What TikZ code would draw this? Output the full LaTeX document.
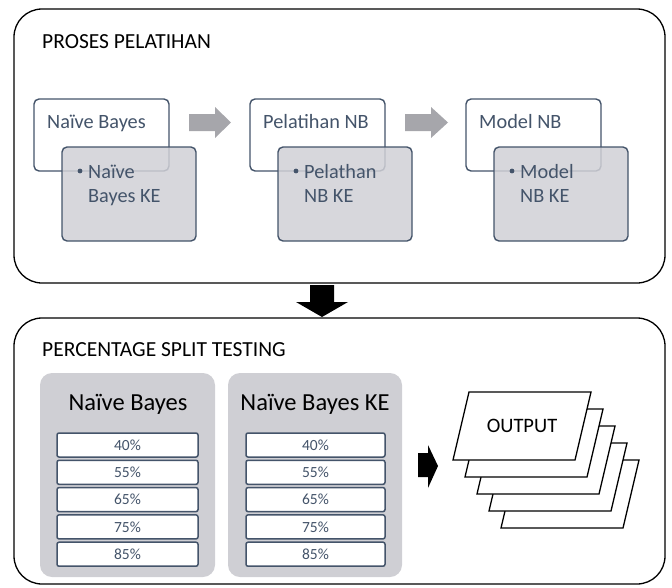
\documentclass[tikz,border=0pt]{standalone}
\usepackage{fontspec}
\setmainfont{Carlito}
\definecolor{slate}{HTML}{44546A}
\definecolor{paleg}{HTML}{D0D0D6}
\definecolor{panelg}{HTML}{CFCFD4}
\definecolor{arrg}{HTML}{A6A6AB}
\tikzset{
  panel/.style={draw=black, line width=1.3pt, rounded corners=28pt, outer sep=0pt, inner sep=0pt, anchor=north west},
  wbox/.style={draw=slate, line width=1.4pt, rounded corners=5pt, fill=white, anchor=north west, minimum width=135pt, minimum height=72pt, outer sep=0pt, inner sep=0pt},
  gbox/.style={wbox, fill=paleg, fill opacity=0.85, minimum width=134pt, minimum height=94pt},
  btext/.style={text=slate, font=\fontsize{20.3}{24}\selectfont, anchor=base west, inner sep=0pt},
  ttext/.style={text=black, font=\fontsize{21.5}{26}\selectfont, anchor=base west, inner sep=0pt},
  dot/.style={circle, fill=slate, inner sep=0pt, minimum size=4.8pt},
  gpanel/.style={fill=panelg, rounded corners=12pt, anchor=north west, minimum height=204pt, outer sep=0pt, inner sep=0pt},
  prow/.style={draw=slate, line width=1.5pt, rounded corners=2pt, fill=white, anchor=north west, minimum height=24pt, outer sep=0pt, inner sep=0pt, text=slate, font=\fontsize{15.5}{18}\selectfont},
  head/.style={text=black, font=\fontsize{24.5}{28}\selectfont, anchor=base, inner sep=0pt},
  garrow/.style={fill=arrg},
  karrow/.style={fill=black},
  sheet/.style={draw=black, line width=1.3pt, fill=white, line join=miter}
}
\begin{document}
\begin{tikzpicture}[x=1pt,y=-1pt]
\useasboundingbox (0,0) rectangle (672,587);

% top panel
\node[panel, minimum width=651pt, minimum height=274pt] (top) at (14,9) {};
\node[ttext] (ttop) at (42,48) {PROSES PELATIHAN};

% step 1
\node[wbox] (w1) at (34,99) {};
\node[gbox] (g1) at (62,147) {};
\node[btext] (w1t) at (47,128.5) {Naïve Bayes};
\node[dot] (d1) at (80,171) {};
\node[btext] (g1a) at (88,178) {Naïve};
\node[btext] (g1b) at (88,202) {Bayes KE};

% step 2
\node[wbox] (w2) at (250,99) {};
\node[gbox] (g2) at (278,147) {};
\node[btext] (w2t) at (263,128.5) {Pelatihan NB};
\node[dot] (d2) at (296,171) {};
\node[btext] (g2a) at (304,178) {Pelathan};
\node[btext] (g2b) at (304,202) {NB KE};

% step 3
\node[wbox] (w3) at (466,99) {};
\node[gbox] (g3) at (494,147) {};
\node[btext] (w3t) at (479,128.5) {Model NB};
\node[dot] (d3) at (512,171) {};
\node[btext] (g3a) at (520,178) {Model};
\node[btext] (g3b) at (520,202) {NB KE};

% gray arrows
\fill[garrow] (189,114) -- (215,114) -- (215,107) -- (231,122.5) -- (215,138) -- (215,131) -- (189,131) -- cycle;
\fill[garrow] (405,114) -- (431,114) -- (431,107) -- (448,122.5) -- (431,138) -- (431,131) -- (405,131) -- cycle;

% down arrow
\fill[karrow] (310,285) -- (334,285) -- (334,302) -- (348,302) -- (322,317) -- (296,302) -- (310,302) -- cycle;

% bottom panel
\node[panel, minimum width=651pt, minimum height=266pt] (bot) at (14,318) {};
\node[ttext] (tbot) at (42,356) {PERCENTAGE SPLIT TESTING};

\node[gpanel, minimum width=175pt] (p1) at (40,373) {};
\node[gpanel, minimum width=174pt] (p2) at (228,373) {};
\node[head] (h1) at (128,410) {Naïve Bayes};
\node[head] (h2) at (315,410) {Naïve Bayes KE};

\foreach \v [count=\i from 0] in {40,55,65,75,85} {
  \node[prow, minimum width=141pt] (a\i) at (57,433+27.3*\i) {\v\%};
  \node[prow, minimum width=139pt] (b\i) at (246,433+27.3*\i) {\v\%};
}

% right arrow
\fill[karrow] (418,453) -- (428,453) -- (428,445) -- (438,466) -- (428,488) -- (428,477) -- (418,477) -- cycle;

% output stack
\foreach \k in {4,3,2,1,0} {
  \draw[sheet, shift={(12*\k,17*\k)}] (453,460) -- (469,392) -- (591,392) -- (575,460) -- cycle;
}
\node[text=black, font=\fontsize{20.5}{24}\selectfont, inner sep=0pt] (out) at (522,426) {OUTPUT};
\end{tikzpicture}
\end{document}
